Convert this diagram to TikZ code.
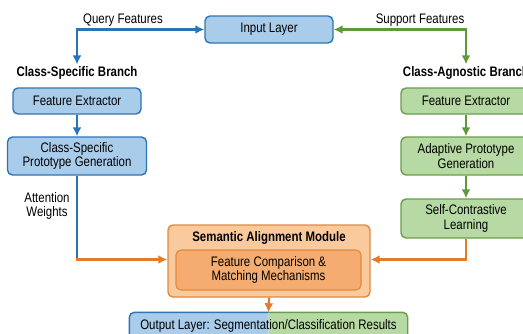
\documentclass[tikz,border=0pt]{standalone}
\usepackage{fontspec}
\setmainfont[FakeStretch=0.83]{Liberation Sans}
\usetikzlibrary{arrows.meta}
\definecolor{bfill}{HTML}{A9CCEB}
\definecolor{bdraw}{HTML}{2E75B6}
\definecolor{gfill}{HTML}{B7D9A3}
\definecolor{gdraw}{HTML}{6A9E4A}
\definecolor{ofill}{HTML}{F9CA9E}
\definecolor{odraw}{HTML}{E4893B}
\definecolor{oinner}{HTML}{F4AC70}
\definecolor{barrow}{HTML}{2A73B5}
\definecolor{garrow}{HTML}{5E9A3C}
\definecolor{oarrow}{HTML}{E27B2C}
\tikzset{
  box/.style={rounded corners=5pt, line width=1.4pt, inner sep=2pt, align=center,
    font=\fontsize{13.8}{14.8}\selectfont},
  bbox/.style={box, fill=bfill, draw=bdraw},
  gbox/.style={box, fill=gfill, draw=gdraw},
  title/.style={font=\fontsize{13.8}{14.8}\selectfont\bfseries, inner sep=2pt},
  lbl/.style={font=\fontsize{13.8}{14.8}\selectfont, inner sep=1pt, align=center},
  tip/.style={arrows={-Latex[length=9pt,width=9pt]}},
  conn/.style={line width=2.2pt, tip},
}
\begin{document}
\begin{tikzpicture}[x=1pt,y=-1pt]
\clip (0,0) rectangle (523,333);
\fill[white] (0,0) rectangle (523,333);

% top
\node[bbox, minimum width=128, minimum height=27] (inp) at (269,29.5) {Input Layer};

% left branch
\node[title] (cst) at (77,73) {Class-Specific Branch};
\node[bbox, minimum width=128, minimum height=26] (bfe) at (77,101) {Feature Extractor};
\node[bbox, minimum width=139, minimum height=38] (bpg) at (77,156) {Class-Specific\\Prototype Generation};

% right branch
\node[title] (cat) at (466,73) {Class-Agnostic Branch};
\node[gbox, minimum width=130, minimum height=26] (gfe) at (466,101) {Feature Extractor};
\node[gbox, minimum width=130, minimum height=38] (gpg) at (466,156) {Adaptive Prototype\\Generation};
\node[gbox, minimum width=130, minimum height=39] (gsc) at (466,218.5) {Self-Contrastive\\Learning};

% semantic alignment module
\node[box, fill=ofill, draw=odraw, minimum width=202, minimum height=72] (sam) at (269,261) {};
\node[title] (samt) at (269,238) {Semantic Alignment Module};
\node[box, fill=oinner, draw=odraw, line width=1.1pt, minimum width=185, minimum height=40] (fcm) at (268.5,270) {Feature Comparison \&\\Matching Mechanisms};

% output layer (split colour)
\node[box, draw=none, minimum width=277, minimum height=26] (out) at (268.5,326) {};
\begin{scope}
  \clip (out.north west) ++(-2,-2) rectangle ([yshift=-2pt]out.south);
  \draw[rounded corners=5pt, line width=1.4pt, fill=bfill, draw=bdraw] (out.north west) rectangle (out.south east);
\end{scope}
\begin{scope}
  \clip (out.north) ++(0,-2) rectangle ([xshift=2pt,yshift=-2pt]out.south east);
  \draw[rounded corners=5pt, line width=1.4pt, fill=gfill, draw=gdraw] (out.north west) rectangle (out.south east);
\end{scope}
\node[lbl] at (out.center) {Output Layer: Segmentation/Classification Results};

% connectors
\draw[conn, barrow, {Latex[length=9pt,width=9pt]}-{Latex[length=9pt,width=9pt]}] (inp.west) -| (cst.north);
\node[lbl] at (123,20) {Query Features};
\draw[conn, garrow, {Latex[length=9pt,width=9pt]}-{Latex[length=9pt,width=9pt]}] (inp.east) -| (cat.north);
\node[lbl] at (420,20) {Support Features};

\draw[conn, barrow] (bfe) -- (bpg);
\draw[conn, garrow] (gfe) -- (gpg);
\draw[conn, garrow] (gpg) -- (gsc);

\coordinate (lc) at (77,259.5);
\coordinate (rc) at (466,259.5);
\draw[line width=2.2pt, barrow] (bpg.south) -- (lc);
\draw[conn, oarrow] ([xshift=-1.1pt]lc) -- (lc -| sam.west);
\node[lbl] at (47,206) {Attention\\Weights};
\draw[conn, oarrow] (gsc.south) -- (rc) -- (rc -| sam.east);
\draw[conn, oarrow] (sam.south) -- (out.north);
\end{tikzpicture}
\end{document}
